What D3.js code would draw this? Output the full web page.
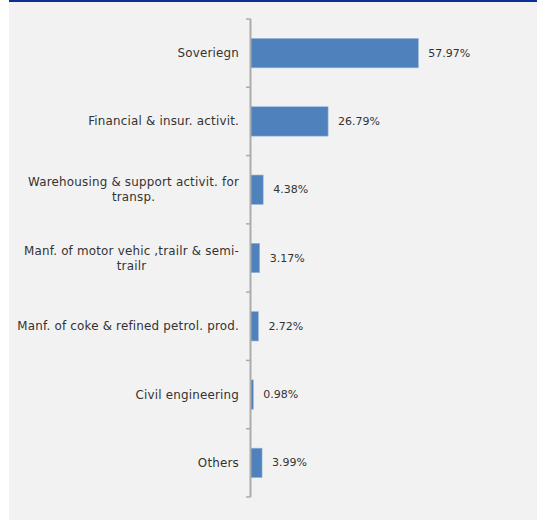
<!DOCTYPE html>
<html>
<head>
<meta charset="utf-8">
<script src="https://cdn.jsdelivr.net/npm/d3@7"></script>
<style>
  html, body { margin: 0; padding: 0; background: #ffffff; }
  svg { display: block; }
</style>
</head>
<body>
<svg id="chart" width="537" height="520"></svg>
<script>
const categories = [
  "Soveriegn",
  "Financial & insur. activit.",
  "Warehousing & support activit. for\ntransp.",
  "Manf. of motor vehic ,trailr & semi-\ntrailr",
  "Manf. of coke & refined petrol. prod.",
  "Civil engineering",
  "Others"
];
const values = [57.97, 26.79, 4.38, 3.17, 2.72, 0.98, 3.99];
const valueLabels = ["57.97%", "26.79%", "4.38%", "3.17%", "2.72%", "0.98%", "3.99%"];

(function () {
const W = 537, H = 520;
const svg = d3.select("#chart");
const FONT = "'DejaVu Sans', sans-serif";
const TEXT = "#333333";

// background panel
svg.append("rect").attr("x", 9).attr("y", 0).attr("width", W - 9).attr("height", H).attr("fill", "#f2f2f2");
svg.append("rect").attr("x", 9).attr("y", 0).attr("width", W - 9).attr("height", 2).attr("fill", "#0a2e96");

const axisX = 250.5;
const plotTop = 19, plotBottom = 497;

const x = d3.scaleLinear().domain([0, 70]).range([axisX, axisX + 202.7]);
const y = d3.scaleBand().domain(categories).range([plotTop, plotBottom]).paddingInner(0.57).paddingOuter(0.285);
const yb = d3.scaleBand().domain(categories).range([plotTop, plotBottom]);

// bars
svg.append("g").selectAll("rect").data(values).join("rect")
  .attr("x", x(0))
  .attr("y", (d, i) => y(categories[i]))
  .attr("width", d => x(d) - x(0))
  .attr("height", y.bandwidth())
  .attr("fill", "#4f81bd")
  .attr("stroke", "#9bb5d9")
  .attr("stroke-width", 0.6);

// axis line and ticks
const ticks = d3.range(categories.length + 1).map(i => plotTop + i * yb.step());
const ag = svg.append("g");
ag.append("line").attr("x1", axisX).attr("x2", axisX).attr("y1", plotTop).attr("y2", plotBottom)
  .attr("stroke", "#ababab").attr("stroke-width", 2);
ag.selectAll("line.t").data(ticks).join("line").attr("class", "t")
  .attr("x1", axisX - 4.5).attr("x2", axisX).attr("y1", d => d).attr("y2", d => d)
  .attr("stroke", "#ababab").attr("stroke-width", 1.5);

// category labels
const lg = svg.append("g").attr("font-family", FONT).attr("font-size", 11.9)
  .attr("letter-spacing", 0.2).attr("fill", TEXT);
categories.forEach((c, i) => {
  const lines = c.split("\n");
  const cy = yb(c) + yb.bandwidth() / 2;
  const lh = 15;
  const t = lg.append("text").attr("text-anchor", "middle").attr("dominant-baseline", "central");
  lines.forEach((ln, j) => {
    t.append("tspan").text(ln).attr("y", cy + (j - (lines.length - 1) / 2) * lh);
  });
  const widths = [];
  t.selectAll("tspan").each(function() { widths.push(this.getComputedTextLength()); });
  const maxW = d3.max(widths);
  const cx = 239 - maxW / 2;
  t.selectAll("tspan").attr("x", cx);
});

// value labels
svg.append("g").attr("font-family", FONT).attr("font-size", 11).attr("fill", TEXT)
  .selectAll("text").data(values).join("text")
  .attr("x", d => x(d) + 10)
  .attr("y", (d, i) => y(categories[i]) + y.bandwidth() / 2)
  .attr("dominant-baseline", "central")
  .text((d, i) => valueLabels[i]);
})();
</script>
</body>
</html>
